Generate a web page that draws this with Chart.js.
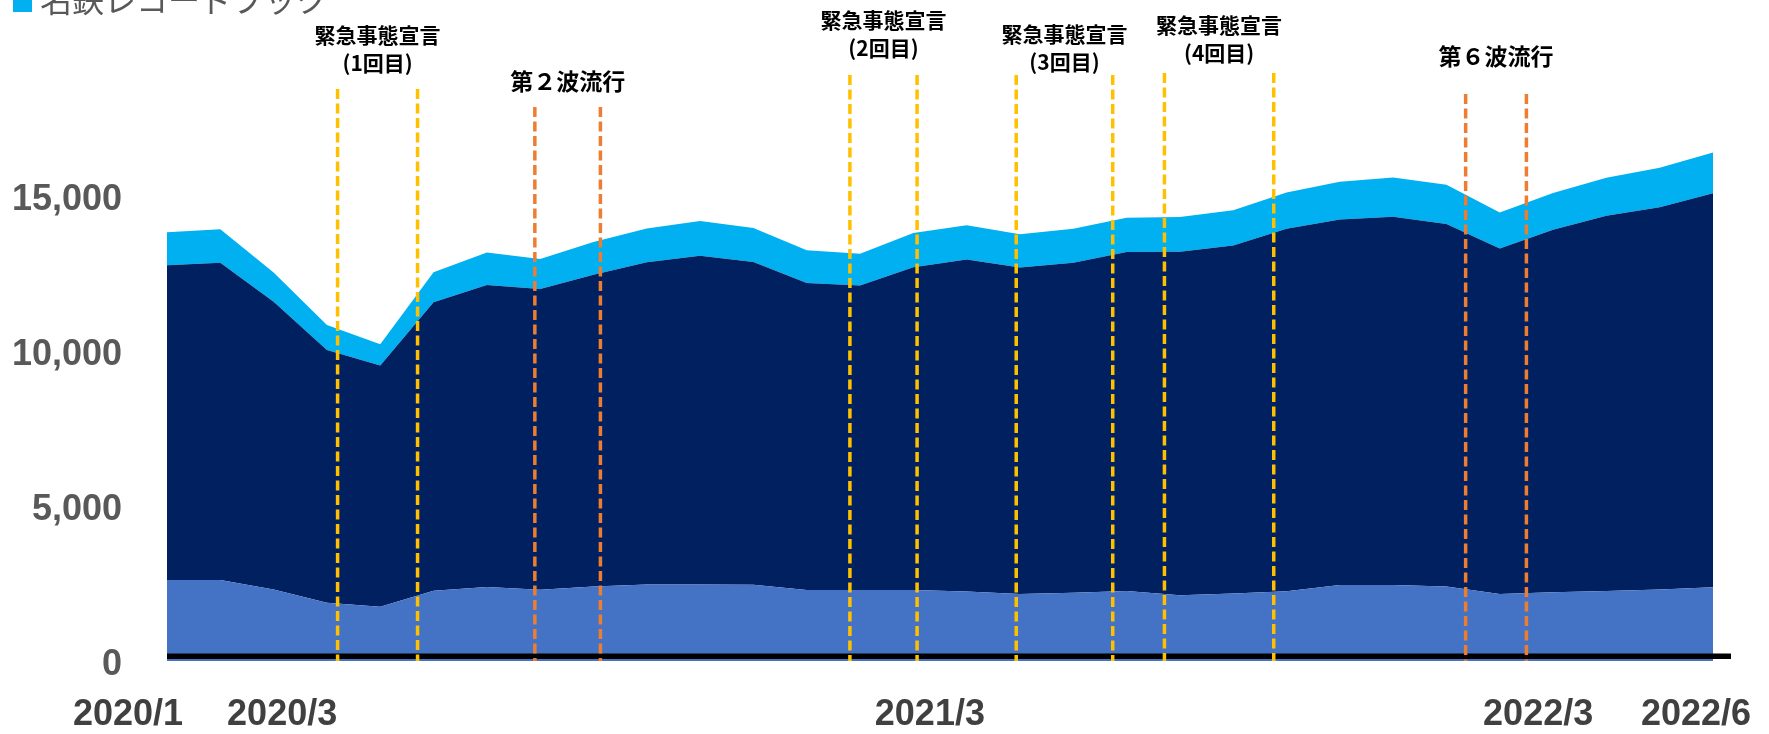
<!DOCTYPE html>
<html lang="ja">
<head>
<meta charset="utf-8">
<title>名鉄 月次推移</title>
<script src="https://cdn.jsdelivr.net/npm/chart.js@4.4.1/dist/chart.umd.min.js"></script>
<style>
  html, body { margin: 0; padding: 0; background: #ffffff; overflow: hidden; }
  #wrap { position: relative; width: 1769px; height: 734px; }
</style>
</head>
<body>
<div id="wrap"><canvas id="chart" width="1769" height="734"></canvas></div>
<script>
// ---- data ----------------------------------------------------------------
const months = [
  '2020/1', '2020/2', '2020/3', '2020/4', '2020/5', '2020/6',
  '2020/7', '2020/8', '2020/9', '2020/10', '2020/11', '2020/12',
  '2021/1', '2021/2', '2021/3', '2021/4', '2021/5', '2021/6',
  '2021/7', '2021/8', '2021/9', '2021/10', '2021/11', '2021/12',
  '2022/1', '2022/2', '2022/3', '2022/4', '2022/5', '2022/6'
];
// date captions under the axis and where they sit (months from 2020/1)
const tickLabels = ['2020/1', '2020/3', '2021/3', '2022/3', '2022/6'];
const tickAt = [-0.73, 2.16, 14.31, 25.72, 28.68];
const yTickValues = [0, 5000, 10000, 15000];

const seriesNames = ['系列1', '系列2', '名鉄レコードブック'];
const seriesBase = [
  2610, 2610, 2310, 1880, 1750, 2270, 2390, 2300, 2400, 2470,
  2470, 2460, 2290, 2290, 2290, 2240, 2160, 2200, 2260, 2120,
  2180, 2250, 2450, 2450, 2400, 2160, 2220, 2260, 2310, 2380
];
const seriesMain = [
  10160, 10240, 9280, 8150, 7780, 9300, 9740, 9700, 10060, 10390,
  10600, 10410, 9900, 9820, 10410, 10710, 10530, 10650, 10930, 11080,
  11220, 11690, 11790, 11880, 11700, 11150, 11690, 12100, 12330, 12710
];
const seriesRecordBook = [
  1060, 1080, 940, 810, 690, 970, 1050, 970, 1060, 1090,
  1120, 1100, 1060, 1030, 1110, 1110, 1080, 1090, 1110, 1120,
  1140, 1170, 1220, 1270, 1260, 1160, 1190, 1230, 1270, 1310
];

// periods, in months counted from 2020/1 (fractions = part of the month)
const eventTexts = [
  ['緊急事態宣言', '(1回目)'],
  ['第２波流行'],
  ['緊急事態宣言', '(2回目)'],
  ['緊急事態宣言', '(3回目)'],
  ['緊急事態宣言', '(4回目)'],
  ['第６波流行']
];
const eventStart = [3.2, 6.9, 12.81, 15.93, 18.71, 24.36];
const eventEnd   = [4.7, 8.13, 14.07, 17.74, 20.76, 25.5];
const eventKind  = ['emergency', 'wave', 'emergency', 'emergency', 'emergency', 'wave'];

// ---- drawing settings ----------------------------------------------------
const colors = ['#4472C4', '#002060', '#00B0F0'];
const eventColors = { emergency: '#FFC000', wave: '#ED7D31' };
const eventFontSize = { emergency: 21, wave: 23 };
// top of each dashed line and centre of the first caption line, in canvas px
const eventLayout = [
  { lineTop: 89, textTop: 35 },
  { lineTop: 107, textTop: 81 },
  { lineTop: 75, textTop: 20 },
  { lineTop: 75, textTop: 34 },
  { lineTop: 73, textTop: 25 },
  { lineTop: 94, textTop: 56 }
];
const cjkFont = "'Noto Sans CJK JP', 'Noto Sans', sans-serif";

const overlay = {
  id: 'overlay',
  afterDraw(chart) {
    const { ctx, scales: { x, y } } = chart;
    const zero = y.getPixelForValue(0);

    // heavy baseline
    ctx.save();
    ctx.strokeStyle = '#000000';
    ctx.lineWidth = 5.5;
    ctx.beginPath();
    ctx.moveTo(x.left, zero - 4.7);
    ctx.lineTo(x.right + 18, zero - 4.7);
    ctx.stroke();
    ctx.restore();

    // event periods: dashed verticals and their captions
    eventTexts.forEach((lines, i) => {
      const x0 = x.getPixelForValue(eventStart[i]);
      const x1 = x.getPixelForValue(eventEnd[i]);
      const lay = eventLayout[i];
      const kind = eventKind[i];
      ctx.save();
      ctx.strokeStyle = eventColors[kind];
      ctx.lineWidth = 3.5;
      ctx.setLineDash([10, 4.5]);
      [x0, x1].forEach(px => {
        ctx.beginPath();
        ctx.moveTo(px, lay.lineTop);
        ctx.lineTo(px, zero);
        ctx.stroke();
      });
      ctx.restore();

      ctx.save();
      ctx.fillStyle = '#000000';
      ctx.font = `bold ${eventFontSize[kind]}px ${cjkFont}`;
      ctx.textAlign = 'center';
      ctx.textBaseline = 'middle';
      lines.forEach((t, k) => ctx.fillText(t, (x0 + x1) / 2, lay.textTop + k * 28.5));
      ctx.restore();
    });

    // legend entry for the top series
    const ds = chart.data.datasets[2];
    ctx.save();
    ctx.fillStyle = ds.backgroundColor;
    ctx.fillRect(13, -7, 19, 19);
    ctx.fillStyle = '#595959';
    ctx.font = `32px ${cjkFont}`;
    ctx.textAlign = 'left';
    ctx.textBaseline = 'middle';
    ctx.fillText(ds.label, 40, 0);
    ctx.restore();
  }
};

const series = [seriesBase, seriesMain, seriesRecordBook];

new Chart(document.getElementById('chart'), {
  type: 'line',
  data: {
    labels: months,
    datasets: series.map((values, i) => ({
      label: seriesNames[i],
      data: values,
      backgroundColor: colors[i],
      borderColor: colors[i],
      borderWidth: 0,
      pointRadius: 0,
      tension: 0,
      fill: i === 0 ? 'origin' : '-1'
    }))
  },
  options: {
    responsive: false,
    animation: false,
    layout: { padding: { top: 72, right: 56, bottom: 0, left: 0 } },
    plugins: { legend: { display: false }, tooltip: { enabled: false } },
    scales: {
      x: {
        type: 'category',
        offset: false,
        display: false
      },
      // month captions along the bottom, on the same 0..29 month range
      months: {
        type: 'linear',
        position: 'bottom',
        min: 0,
        max: months.length - 1,
        grid: { display: false, drawTicks: false },
        border: { display: false },
        afterBuildTicks(scale) {
          scale.ticks = tickAt.map(v => ({ value: v }));
        },
        ticks: {
          autoSkip: false,
          maxRotation: 0,
          minRotation: 0,
          padding: 32,
          color: '#404040',
          font: { family: "'Liberation Sans', Arial, sans-serif", size: 36, weight: 'bold', lineHeight: 1.2 },
          callback: (value, index) => tickLabels[index]
        },
        afterFit(scale) {
          scale.height = 73;
          scale.paddingLeft = 0;
          scale.paddingRight = 0;
        }
      },
      y: {
        stacked: true,
        min: 0,
        max: 19000,
        grid: { display: false, drawTicks: false },
        border: { display: false },
        afterBuildTicks(scale) {
          scale.ticks = yTickValues.map(v => ({ value: v }));
        },
        ticks: {
          padding: 45,
          labelOffset: 4,
          color: '#595959',
          font: { family: "'Liberation Sans', Arial, sans-serif", size: 36, weight: 'bold' },
          callback: v => Number(v).toLocaleString('en-US')
        },
        afterFit(scale) {
          scale.width = 167;
          scale.paddingTop = 0;
          scale.paddingBottom = 0;
        }
      }
    }
  },
  plugins: [overlay]
});
</script>
</body>
</html>
